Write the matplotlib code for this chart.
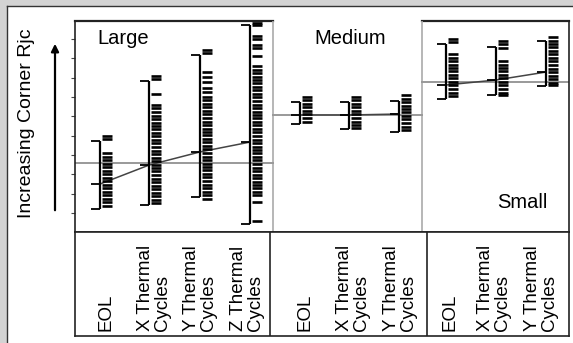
import matplotlib.pyplot as plt
from matplotlib.patches import Rectangle, FancyArrowPatch
from matplotlib.lines import Line2D

plt.rcParams['font.family'] = ['Liberation Sans', 'DejaVu Sans']

# groups (x positions in plot units, 1 unit ~ 50 px)
group_pos = [0.5, 1.48, 2.5, 3.5, 4.5, 5.48, 6.48, 7.42, 8.42, 9.42]
group_labels = ['EOL', 'X Thermal\nCycles', 'Y Thermal\nCycles', 'Z Thermal\nCycles',
                'EOL', 'X Thermal\nCycles', 'Y Thermal\nCycles',
                'EOL', 'X Thermal\nCycles', 'Y Thermal\nCycles']
label_pos = [0.62, 1.58, 2.5, 3.44, 4.6, 5.56, 6.5, 7.5, 8.38, 9.32]
panel = [0, 0, 0, 0, 1, 1, 1, 2, 2, 2]
panel_edges = [0, 3.96, 6.94, 9.88]

# error bar ends and means (arbitrary Rjc units)
bar_hi = [4.72, 7.83, 9.17, 10.72, 6.74, 6.74, 6.79, 9.74, 9.59, 9.90]
bar_lo = [1.21, 1.41, 1.83, 0.43, 5.60, 5.35, 5.19, 6.90, 7.10, 7.57]
means = [2.50, 3.48, 4.16, 4.67, 6.07, 6.07, 6.12, 7.62, 7.88, 8.29]
ref_level = [3.59, 6.07, 7.78]

# individual readings per group
large_eol = [4.98, 4.83, 4.10, 3.90, 3.74, 3.53, 3.38, 3.17, 3.02, 2.81, 2.66,
             2.45, 2.29, 2.09, 1.93, 1.72, 1.57, 1.36]
large_x = [8.09, 7.93, 7.16, 6.59, 6.41, 6.23, 6.04, 5.86, 5.68, 5.50, 5.32, 5.14,
           4.96, 4.78, 4.60, 4.41, 4.23, 4.05, 3.87, 3.69, 3.51, 3.33, 3.15, 2.97,
           2.78, 2.60, 2.42, 2.24, 2.06, 1.88, 1.70, 1.52]
large_y = [9.43, 9.28, 8.29, 8.04, 7.78, 7.47, 7.26, 7.00, 6.82, 6.64, 6.46, 6.28,
           6.10, 5.91, 5.73, 5.55, 5.37, 5.19, 5.01, 4.83, 4.65, 4.47, 4.29, 4.10,
           3.92, 3.74, 3.56, 3.38, 3.20, 3.02, 2.84, 2.66, 2.47, 2.29, 2.11, 1.93, 1.75]
large_z = [10.85, 10.70, 10.16, 10.00, 9.69, 9.54, 9.12, 8.60, 8.42, 8.24, 8.06,
           7.88, 7.70, 7.52, 7.34, 7.16, 6.98, 6.79, 6.61, 6.43, 6.25, 6.07, 5.89,
           5.71, 5.53, 5.35, 5.17, 4.98, 4.80, 4.62, 4.44, 4.26, 4.08, 3.90, 3.72,
           3.53, 3.35, 3.17, 2.99, 2.81, 2.63, 2.45, 2.27, 2.09, 1.91, 1.57, 0.59]
medium_eol = [7.00, 6.82, 6.64, 6.46, 6.28, 6.10, 5.91, 5.73]
medium_x = [7.00, 6.82, 6.64, 6.46, 6.28, 6.10, 5.91, 5.73, 5.55, 5.40]
medium_y = [7.10, 6.92, 6.74, 6.56, 6.38, 6.20, 6.02, 5.84, 5.66, 5.47, 5.29]
small_eol = [10.00, 9.85, 9.23, 9.04, 8.86, 8.68, 8.50, 8.32, 8.14, 7.96, 7.78,
             7.60, 7.41, 7.23, 7.05]
small_x = [9.90, 9.72, 9.54, 8.86, 8.68, 8.50, 8.32, 8.14, 7.96, 7.78, 7.60,
           7.41, 7.23, 7.10]
small_y = [10.10, 9.92, 9.74, 9.56, 9.38, 9.20, 9.02, 8.84, 8.66, 8.47, 8.29,
           8.11, 7.93, 7.75, 7.62]
readings = [large_eol, large_x, large_y, large_z, medium_eol, medium_x, medium_y,
            small_eol, small_x, small_y]

W, H = 573, 343
fig = plt.figure(figsize=(W / 100, H / 100), dpi=100, facecolor='white')

# gray frame strips on left and top
fig.patches.append(Rectangle((0, 0), 7 / W, 1, transform=fig.transFigure,
                             facecolor='#d3d3d3', edgecolor='none'))
fig.patches.append(Rectangle((0, 1 - 6 / H), 1, 6 / H, transform=fig.transFigure,
                             facecolor='#d3d3d3', edgecolor='none'))
fig.lines.append(Line2D([7 / W, 7 / W], [0, 1 - 6 / H], transform=fig.transFigure,
                        color='#333333', lw=1))
fig.lines.append(Line2D([7 / W, 1], [1 - 6 / H, 1 - 6 / H], transform=fig.transFigure,
                        color='#333333', lw=1))

ax = fig.add_axes([75 / W, (H - 232) / H, 494 / W, 211 / H])
ax.set_xlim(panel_edges[0], panel_edges[-1])
ax.set_ylim(0.02, 10.93)
ax.spines['top'].set_visible(False)
for s in ['left', 'right', 'bottom']:
    ax.spines[s].set_color('#222222')
    ax.spines[s].set_linewidth(1.2)
ax.set_xticks([])
ax.set_yticks(range(1, 11))
ax.set_yticklabels([])
ax.tick_params(axis='y', direction='out', length=3, width=0.8, color='#444444')

# top border for Large and Small only
ax.plot([panel_edges[0], panel_edges[1]], [10.93, 10.93], color='#222222', lw=1.6, clip_on=False)
ax.plot([panel_edges[2], panel_edges[3]], [10.93, 10.93], color='#222222', lw=1.6, clip_on=False)
for e in panel_edges[1:3]:
    ax.axvline(e, color='#aaaaaa', lw=1.2)

# reference level per panel
for p in range(3):
    ax.plot([panel_edges[p], panel_edges[p + 1]], [ref_level[p], ref_level[p]],
            color='#999999', lw=1.4, zorder=2)

# mean lines within each panel
for p in range(3):
    xs = [group_pos[i] for i in range(10) if panel[i] == p]
    ms = [means[i] for i in range(10) if panel[i] == p]
    ax.plot(xs, ms, color='#444444', lw=1.1, zorder=3)

cap = 0.18
for i in range(10):
    x = group_pos[i]
    ax.vlines(x, bar_lo[i], bar_hi[i], color='black', lw=1.6, zorder=4)
    ax.hlines([bar_lo[i], bar_hi[i], means[i]], x - cap, x, color='black', lw=1.3, zorder=4)
    ax.plot([x + 0.13] * len(readings[i]), readings[i], ls='none', marker='_',
            ms=6.5, mew=1.9, color='black', zorder=5)

ax.text(0.45, 10.0, 'Large', fontsize=14.5, va='center', ha='left')
ax.text(5.5, 10.05, 'Medium', fontsize=14.5, va='center', ha='center')
ax.text(8.94, 1.55, 'Small', fontsize=14.5, va='center', ha='center')

# bottom label box
bx = fig.add_axes([75 / W, (H - 336) / H, 494 / W, 104 / H])
bx.set_xlim(panel_edges[0], panel_edges[-1])
bx.set_ylim(0, 1)
bx.set_xticks([])
bx.set_yticks([])
for s in bx.spines.values():
    s.set_color('#222222')
    s.set_linewidth(1.2)
for e in [3.9, 7.04]:
    bx.axvline(e, color='#222222', lw=1.2)
for lp, lab in zip(label_pos, group_labels):
    bx.text(lp, 0.05, lab, rotation=90, ha='center', va='bottom', fontsize=13.5,
            multialignment='left', linespacing=0.95)

# y label and arrow
fig.text(27 / W, 1 - 123 / H, 'Increasing Corner Rjc', rotation=90, fontsize=14,
         ha='center', va='center')
fig.patches.append(FancyArrowPatch(
    (55 / W, 1 - 213 / H), (55 / W, 1 - 41 / H), transform=fig.transFigure,
    arrowstyle='-|>', mutation_scale=11, lw=1.6, color='black'))

fig.savefig('out.png', dpi=100)
